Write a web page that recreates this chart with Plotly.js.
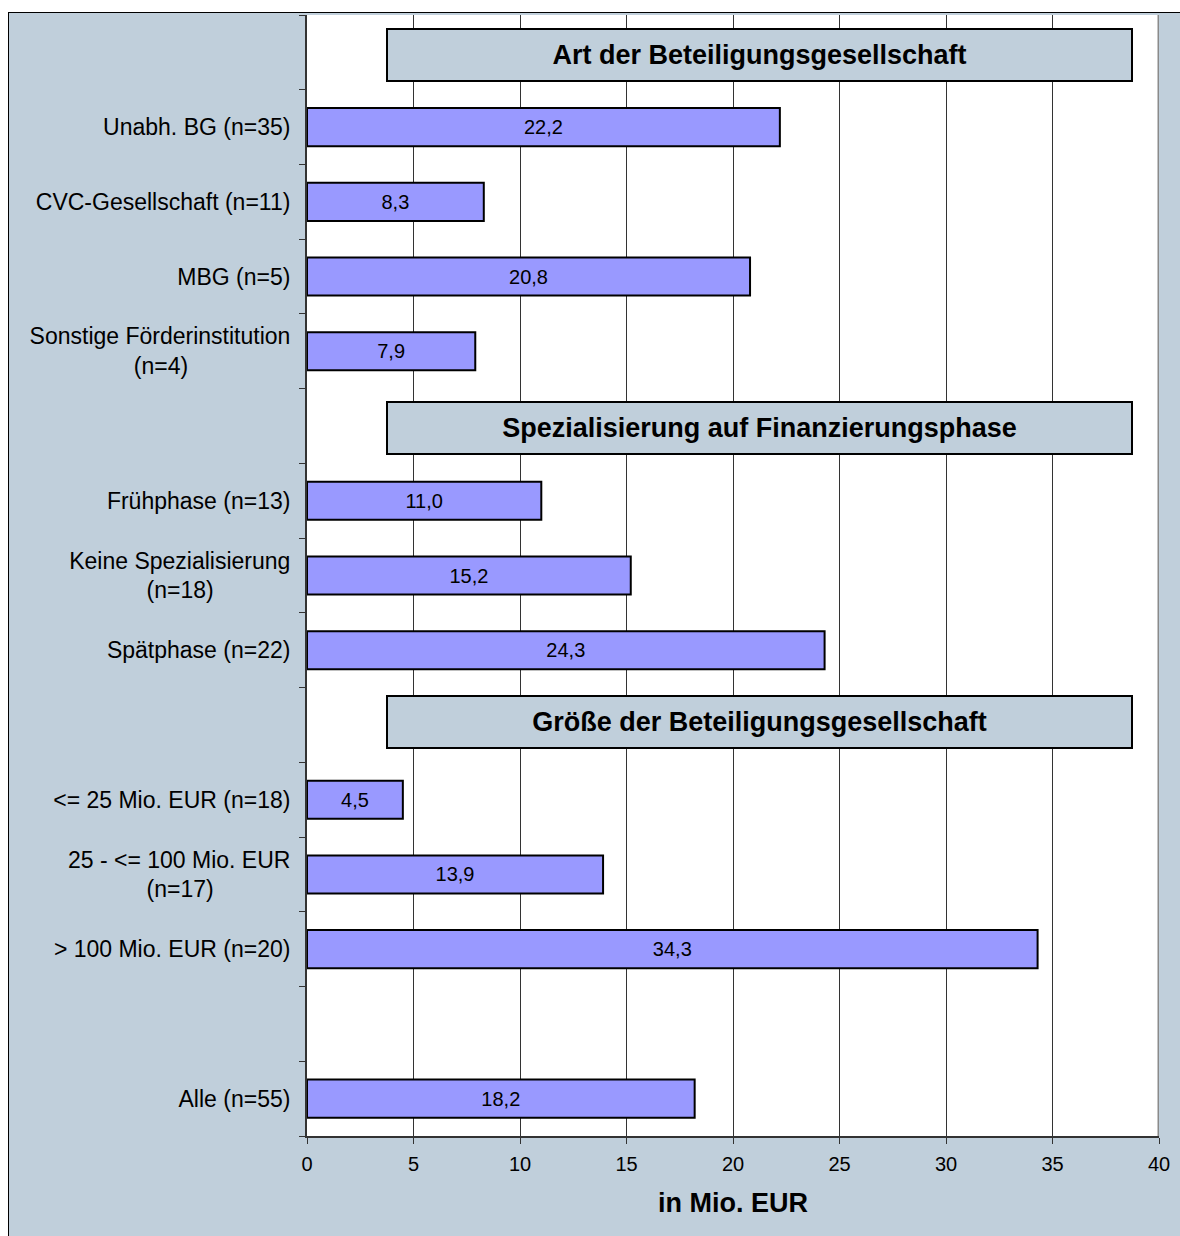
<!DOCTYPE html>
<html>
<head>
<meta charset="utf-8">
<script src="https://cdn.plot.ly/plotly-3.0.1.min.js"></script>
<style>
  html, body { margin: 0; padding: 0; background: #ffffff; width: 1180px; height: 1236px; overflow: hidden; }
  #chart { position: absolute; left: 8px; top: 12px; width: 1172px; height: 1224px;
           border-top: 1px solid #000; border-left: 1px solid #000; }
</style>
</head>
<body>
<div id="chart"></div>
<script>
// Row keys (top to bottom)
const rowKeys = ["hdr1", "unabh", "cvc", "mbg", "sonst", "hdr2", "frueh", "keine", "spaet", "hdr3", "le25", "25to100", "gt100", "gap", "alle"];
// Row labels shown on the axis
const rowLabels = [
  "",
  "Unabh. BG (n=35)",
  "CVC-Gesellschaft (n=11)",
  "MBG (n=5)",
  "Sonstige Förderinstitution<br>(n=4)",
  "",
  "Frühphase (n=13)",
  "Keine Spezialisierung<br>(n=18)",
  "Spätphase (n=22)",
  "",
  "&lt;= 25 Mio. EUR (n=18)",
  "25 - &lt;= 100 Mio. EUR<br>(n=17)",
  "&gt; 100 Mio. EUR (n=20)",
  "",
  "Alle (n=55)"
];
// Values in Mio. EUR
const values = [null, 22.2, 8.3, 20.8, 7.9, null, 11.0, 15.2, 24.3, null, 4.5, 13.9, 34.3, null, 18.2];
// Group headers
const headerTexts = ["Art der Beteiligungsgesellschaft", "Spezialisierung auf Finanzierungsphase", "Größe der Beteiligungsgesellschaft"];
const headerRows = ["hdr1", "hdr2", "hdr3"];
const xTickVals = [0, 5, 10, 15, 20, 25, 30, 35, 40];

// centre second lines of two-line labels (tick labels are right-aligned)
const pad = n => "\u00a0".repeat(n);
const padCounts = {"sonst": 16, "keine": 12, "25to100": 12};
const shownLabels = rowLabels.map((l, i) => {
  const k = rowKeys[i];
  return padCounts[k] ? l + pad(padCounts[k]) : l;
});

const FONT = "Liberation Sans, Arial, sans-serif";

const trace = {
  type: "bar",
  orientation: "h",
  y: rowKeys,
  x: values,
  marker: { color: "#9999ff", line: { color: "#000000", width: 2 } },
  texttemplate: "%{x:.1f}",
  textposition: "inside",
  insidetextanchor: "middle",
  constraintext: "none",
  textfont: { family: FONT, size: 20, color: "#000000" },
  hoverinfo: "skip",
  cliponaxis: false
};

const headerShift = [-3, -2, 3];
const annotations = headerTexts.map((t, i) => ({
  xref: "x", yref: "y",
  x: 21.25, y: rowKeys.indexOf(headerRows[i]),
  yshift: headerShift[i],
  text: "<b>" + t + "</b>",
  showarrow: false,
  font: { family: FONT, size: 27, color: "#000000" },
  bgcolor: "#c0cfdb",
  bordercolor: "#000000",
  borderwidth: 2,
  borderpad: 1,
  width: 741,
  height: 48,
  xanchor: "center", yanchor: "middle"
}));

const layout = {
  width: 1172, height: 1224,
  margin: { l: 298, r: 22, t: 2, b: 101 },
  paper_bgcolor: "#c0cfdb",
  plot_bgcolor: "#ffffff",
  separators: ",.",
  showlegend: false,
  bargap: 0.49,
  font: { family: FONT, color: "#000000" },
  xaxis: {
    range: [0, 40],
    tickmode: "array", tickvals: xTickVals,
    showgrid: true, gridcolor: "#333333", gridwidth: 1,
    zeroline: false,
    showline: true, linecolor: "#333333", linewidth: 2,
    ticks: "outside", ticklen: 6, tickcolor: "#333333", tickwidth: 1,
    ticklabelstandoff: 3,
    tickfont: { size: 20, color: "#000000" },
    title: { text: "<b>in Mio. EUR</b>", font: { size: 27, color: "#000000" }, standoff: 19 },
    fixedrange: true
  },
  yaxis: {
    type: "category",
    categoryorder: "array", categoryarray: rowKeys,
    tickmode: "array", tickvals: rowKeys, ticktext: shownLabels,
    tickson: "boundaries",
    autorange: "reversed",
    showgrid: false, zeroline: false,
    showline: true, linecolor: "#333333", linewidth: 2,
    ticks: "outside", ticklen: 6, tickcolor: "#333333", tickwidth: 1,
    ticklabelstandoff: 10,
    tickfont: { size: 23, color: "#000000" },
    fixedrange: true
  },
  annotations: annotations,
  shapes: [
    { type: "line", xref: "x", yref: "paper", x0: 40, x1: 40, y0: 0, y1: 1,
      line: { color: "#8a8a8a", width: 3 } }
  ]
};

Plotly.newPlot("chart", [trace], layout, { displayModeBar: false, staticPlot: true });
</script>
</body>
</html>
